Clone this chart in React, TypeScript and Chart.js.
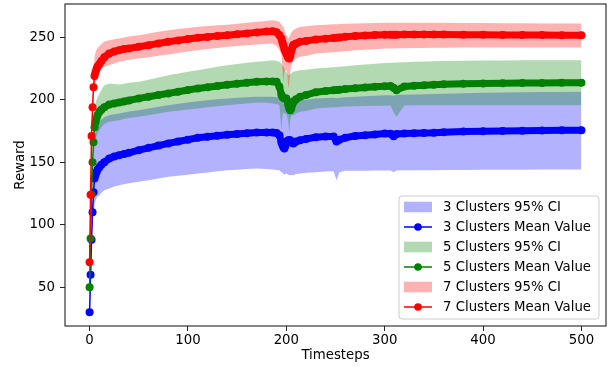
import React, { useEffect, useRef } from 'react';
import { Chart, registerables } from 'chart.js';

Chart.register(...registerables);

// ---------- data ----------
const timesteps = [0,1,2,3,4,5,6,7,8, 10,12,15,20,25,30,35,40, 50,60,70,80,90,100,110,120,130,140,150,160,170,180, 186,190,193, 195,196,197,198,199,200,201,202,203,204,205,206,207,208, 210,214,220,230,240,248,251,254,260, 270,280,290,300,306,309,312, 320,330,340,350,360, 380,400,420,440,460,480,500];

const mean3 = [30,60,88,110,126,137,140,142,144, 146,148,150,153,154.5,155.6,156.5,157.5, 159.6,161.5,163.3,165,166.5,168,169.5,170.3,171.2,172,172.6,173.2,173.7,173.8, 173.7,173.4,171.5, 166,164,162,161,163,166,167,167.5,167.6,167.6,166.5,165.5,165,165.5, 166.5,167.6,168.5,170,170.5,170.5,166.5,168,169.5, 171,171.5,172.2,172.9,172.8,170.8,172.5, 173,173.2,173.4,173.5,174, 174.5,174.8,175,175.2,175.4,175.5,175.6];
const upper3 = [30,60,90,116,150,168,175,178,180, 182.3,184,186,187.6,188.3,189,189.8,190.5, 191.6,193,194.4,195.6,196.7,197.8,198.8,199.5,200.3,201,201.5,202,202.3,202.3, 202.3,202,201.7, 199,198,197,196,197,198,198.5,198,197,197.5,198,198.5,199,199.3, 199.5,199.6,200,200.9,201.3,201.5,201.2,201.6,202, 202.3,202.8,203.2,203.5,203.6,203.2,203.7, 204,204.2,204.4,204.6,204.8, 205.2,205.5,205.8,206,206.1,206.2,206.3];
const lower3 = [30,60,86,104,110,116,119,121,122.5, 123.6,125.5,127.5,129,130.5,131.6,132.4,133.2, 134.3,135.6,137,138.3,139.2,140,140.9,141.8,142.7,143.6,144,144.5,144.9,144.6, 144.2,143.8,143.6, 142,141.5,140.9,140,140.5,141,140.5,140,139.5,139.6,139.8,139.6,139.6,140, 140.5,140.9,141.5,142,142.5,142.8,135.6,142,143.1, 143.1,143.2,143.3,143.3,143.4,142,143.4, 143.5,143.5,143.6,143.6,143.7, 143.8,143.9,144,144,144.1,144.1,144.1];

const mean5 = [50,89,124,150,166,178,182,185,187.5, 190.3,192,194,196.1,197,197.7,198.5,199.3, 201,202.3,203.7,205,206.3,207.7,209,210,211,212,212.8,213.6,214.3,214.6, 214.5,214.3,210.3, 204,202.3,201.5,201,201,200.9,199,196,193,191.6,193,196,198,199, 200.3,202.3,203.7,206,207,207.6,207.8,208,208.6, 209.2,209.8,210.3,210.8,211,209.5,207.6, 210.5,211.2,211.6,212,212.3, 212.7,213,213.2,213.3,213.4,213.5,213.5];
const upper5 = [50,89,126,156,180,192,197,200,202, 204.5,208,211.6,213,212.6,212.1,212.8,213.5, 214.3,216,217.8,219.6,221,222.3,223.6,225,226.3,227.6,228.5,229.5,230.3,231, 231.6,231,230.3, 229,227.5,226.3,225,223.5,222,220.5,219.6,219.8,220.5,221.2,221.8,222.3,222.6, 223,223.6,224,224.9,225.5,226,226.1,226.3,226.8, 227.6,228.2,228.8,229.4,229.6,229.6,229.7, 230,230.3,230.5,230.7,231, 231.2,231.3,231.4,231.5,231.6,231.6,231.6];
const lower5 = [50,89,122,144,152,162,167,170,173, 175.6,178,180.5,182.3,183,183.6,184.5,185.3, 186.3,187.6,189,190.3,191.2,192.1,193,193.9,194.7,195.6,196.3,197,197.7,197.5, 197,196.5,195.6, 175.6,186,190,189,188.9,188.5,186,182,172.9,184,187,187.5,187.6,188, 189,190.3,191,192.9,193.5,194,193.8,194.1,194.6, 194.8,195,195.1,195.2,195.3,190,186.3, 195.4,195.5,195.5,195.6,195.6, 195.6,195.6,195.6,195.6,195.6,195.6,195.6];

const mean7 = [70,124,171,194,210,219,222,224.5,226.5, 228.5,231,234,237,238.6,239.6,240.5,241, 242.3,243.6,245,246.3,247.4,248.5,249.5,250.2,251,251.6,252.3,253,253.8,254.5, 254.8,254,251.5, 249,246,243.6,240.5,238.5,237,235,233.5,232.9,235,238.5,241.5,243.6,244.2, 245,246.3,247,248.1,248.8,249.3,249.5,249.7,250.4, 250.9,251.3,251.7,252,252,252,252, 252.1,252.1,252.1,252.1,252.1, 252,251.9,251.8,251.7,251.7,251.6,251.6];
const upper7 = [70,124,172,198,222,234,238,240,241.5, 242.5,244.5,246.5,247.6,248.3,248.9,249.8,250.5, 251.6,253,254.3,255.6,256.5,257.4,258.3,258.9,259.5,260,260.8,261.6,262.3,263, 263.6,263,262.3, 260,259,258.3,256,254,252,250.5,249,250,252,253.5,254.6,255.6,256.2, 257,258.3,258.8,259.6,260,260.3,260.4,260.5,260.8, 261,261.2,261.4,261.5,261.5,261.5,261.5, 261.5,261.5,261.5,261.5,261.5, 261.4,261.3,261.2,261.1,261,261,260.9];
const lower7 = [70,124,170,190,202,210,213,216,218.5, 222.3,224.5,226.3,227.6,229,230.3,231.2,232, 233,234,235.1,236.1,237.3,238.5,239.6,240.5,241.4,242.3,243,243.6,244.2,244.8, 245,243,240, 236,225,214.3,222,224,223.6,220,208.9,214,222,227,229.5,231,232, 233,234.3,235,236.9,237.5,238,238.2,238.4,238.8, 239.6,240,240.4,240.9,241,241,241.1, 241.2,241.3,241.4,241.5,241.6, 241.7,241.7,241.7,241.7,241.7,241.7,241.7];

const xTicks = [0, 100, 200, 300, 400, 500];
const yTicks = [50, 100, 150, 200, 250];
const seriesNames = ['3 Clusters', '5 Clusters', '7 Clusters'];
const xTitle = 'Timesteps';
const yTitle = 'Reward';

// ---------- styles ----------
const lineColors = ['#0000ff', '#008000', '#ff0000'];
const bandColors = ['rgba(0,0,255,0.3)', 'rgba(0,128,0,0.3)', 'rgba(255,0,0,0.3)'];
const FONT = "'DejaVu Sans', sans-serif";
const FS = 13.3;

const pts = (arr: number[]) => timesteps.map((t, i) => ({ x: t, y: arr[i] }));

export default function App() {
  const ref = useRef<HTMLCanvasElement | null>(null);

  useEffect(() => {
    const canvas = ref.current;
    if (!canvas) return;

    const groups = [
      { m: mean3, u: upper3, l: lower3 },
      { m: mean5, u: upper5, l: lower5 },
      { m: mean7, u: upper7, l: lower7 },
    ];
    const datasets: any[] = [];
    groups.forEach((g, k) => {
      const base = 9 - k * 3;
      datasets.push({
        label: seriesNames[k] + ' lower',
        data: pts(g.l),
        borderWidth: 0,
        borderColor: 'rgba(0,0,0,0)',
        pointRadius: 0,
        fill: false,
        order: base,
      });
      datasets.push({
        label: seriesNames[k] + ' 95% CI',
        data: pts(g.u),
        borderWidth: 0,
        borderColor: 'rgba(0,0,0,0)',
        backgroundColor: bandColors[k],
        pointRadius: 0,
        fill: '-1',
        order: base - 1,
      });
      datasets.push({
        label: seriesNames[k] + ' Mean Value',
        data: pts(g.m),
        borderColor: lineColors[k],
        backgroundColor: lineColors[k],
        borderWidth: 1.5,
        borderJoinStyle: 'round',
        borderCapStyle: 'round',
        pointRadius: 4,
        pointBorderWidth: 0,
        pointBackgroundColor: lineColors[k],
        fill: false,
        order: base - 2,
        segment: {
          borderWidth: (ctx: any) => (timesteps[ctx.p0DataIndex] >= 5 ? 7 : 1.5),
        },
      });
    });

    const legendItems: { kind: 'patch' | 'line'; color: string; text: string }[] = [];
    seriesNames.forEach((n, k) => {
      legendItems.push({ kind: 'patch', color: bandColors[k], text: n + ' 95% CI' });
      legendItems.push({ kind: 'line', color: lineColors[k], text: n + ' Mean Value' });
    });

    const framePlugin = {
      id: 'mplFrame',
      afterDraw(chart: any) {
        const ctx = chart.ctx as CanvasRenderingContext2D;
        const a = chart.chartArea;
        ctx.save();
        ctx.strokeStyle = '#222';
        ctx.lineWidth = 1.1;
        ctx.strokeRect(a.left, a.top, a.right - a.left, a.bottom - a.top);
        const w = 200, h = 123;
        const x0 = a.right - 7 - w;
        const y0 = a.bottom - 7 - h;
        const r = 3;
        ctx.beginPath();
        ctx.moveTo(x0 + r, y0);
        ctx.lineTo(x0 + w - r, y0);
        ctx.quadraticCurveTo(x0 + w, y0, x0 + w, y0 + r);
        ctx.lineTo(x0 + w, y0 + h - r);
        ctx.quadraticCurveTo(x0 + w, y0 + h, x0 + w - r, y0 + h);
        ctx.lineTo(x0 + r, y0 + h);
        ctx.quadraticCurveTo(x0, y0 + h, x0, y0 + h - r);
        ctx.lineTo(x0, y0 + r);
        ctx.quadraticCurveTo(x0, y0, x0 + r, y0);
        ctx.closePath();
        ctx.fillStyle = 'rgba(255,255,255,0.8)';
        ctx.fill();
        ctx.strokeStyle = '#cccccc';
        ctx.lineWidth = 1;
        ctx.stroke();
        ctx.font = `${FS}px ${FONT}`;
        ctx.textBaseline = 'middle';
        ctx.textAlign = 'left';
        legendItems.forEach((it, i) => {
          const cy = y0 + 11 + i * 20;
          if (it.kind === 'patch') {
            ctx.fillStyle = it.color;
            ctx.fillRect(x0 + 5, cy - 5.3, 28, 10.6);
          } else {
            ctx.strokeStyle = it.color;
            ctx.lineWidth = 1.5;
            ctx.beginPath();
            ctx.moveTo(x0 + 5, cy);
            ctx.lineTo(x0 + 33, cy);
            ctx.stroke();
            ctx.fillStyle = it.color;
            ctx.beginPath();
            ctx.arc(x0 + 19, cy, 3.8, 0, Math.PI * 2);
            ctx.fill();
          }
          ctx.fillStyle = '#000';
          ctx.fillText(it.text, x0 + 44, cy + 0.5);
        });
        ctx.restore();
      },
    };

    const tickFont = { family: FONT, size: FS };
    const zeroPad = (s: any) => {
      s.paddingTop = 0; s.paddingBottom = 0; s.paddingLeft = 0; s.paddingRight = 0;
    };

    const chart = new Chart(canvas, {
      type: 'line',
      data: { datasets },
      plugins: [framePlugin],
      options: {
        responsive: false,
        animation: false,
        events: [],
        layout: { padding: { top: 4, right: 10, bottom: 0, left: 0 } },
        elements: { line: { tension: 0 } },
        plugins: {
          legend: { display: false },
          tooltip: { enabled: false },
          filler: { propagate: false },
        },
        scales: {
          x: {
            type: 'linear',
            min: -25,
            max: 525,
            afterBuildTicks: (s: any) => { s.ticks = xTicks.map((v) => ({ value: v })); },
            afterFit: (s: any) => { s.height = 43; zeroPad(s); },
            border: { display: false },
            grid: { display: true, drawOnChartArea: false, drawTicks: true, tickLength: 5, color: '#222', lineWidth: 1 },
            ticks: { autoSkip: false, maxRotation: 0, padding: 2, color: '#000', font: tickFont, callback: (v: any) => String(v) },
            title: { display: true, text: xTitle, color: '#000', font: tickFont, padding: { top: 0, bottom: 5 } },
          },
          y: {
            type: 'linear',
            min: 19,
            max: 276.5,
            afterBuildTicks: (s: any) => { s.ticks = yTicks.map((v) => ({ value: v })); },
            afterFit: (s: any) => { s.width = 65; zeroPad(s); },
            border: { display: false },
            grid: { display: true, drawOnChartArea: false, drawTicks: true, tickLength: 5, color: '#222', lineWidth: 1 },
            ticks: { autoSkip: false, padding: 5, color: '#000', font: tickFont, callback: (v: any) => String(v) },
            title: { display: true, text: yTitle, color: '#000', font: tickFont, padding: { top: 13, bottom: 0 } },
          },
        },
      } as any,
    });

    return () => chart.destroy();
  }, []);

  return (
    <div style={{ position: 'fixed', left: 0, top: 0, width: 616, height: 369, background: '#fff' }}>
      <canvas ref={ref} width={616} height={369} style={{ display: 'block' }} />
    </div>
  );
}
